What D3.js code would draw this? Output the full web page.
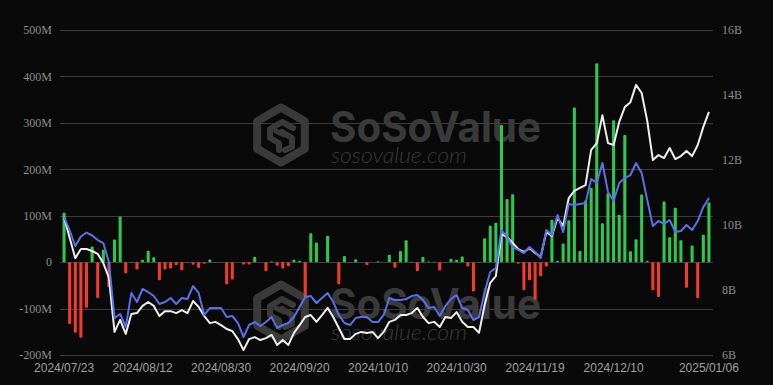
<!DOCTYPE html>
<html>
<head>
    <title>ETH Spot ETF Flows</title>
    <script src="https://cdnjs.cloudflare.com/ajax/libs/d3/7.8.5/d3.min.js"></script>
    <style>
        body { margin: 0; background: #090909; }
        svg { display: block; }
        .axis text { fill: #8c8c8c; font-family: "Liberation Serif", "Times New Roman", serif; font-size: 12px; }
        .xaxis text { fill: #a0a0a0; font-family: "Liberation Sans", Arial, sans-serif; font-size: 12px; }
        .grid line { stroke: #3c3c3c; stroke-width: 1; }
    </style>
</head>
<body>
    <svg id="chart"></svg>

    <script>
        const width = 773, height = 385;

        // trading days
        const dates = [
            "2024/07/23","2024/07/24","2024/07/25","2024/07/26","2024/07/29","2024/07/30","2024/07/31",
            "2024/08/01","2024/08/02","2024/08/05","2024/08/06","2024/08/07","2024/08/08","2024/08/09",
            "2024/08/12","2024/08/13","2024/08/14","2024/08/15","2024/08/16","2024/08/19","2024/08/20",
            "2024/08/21","2024/08/22","2024/08/23","2024/08/26","2024/08/27","2024/08/28","2024/08/29","2024/08/30",
            "2024/09/03","2024/09/04","2024/09/05","2024/09/06","2024/09/09","2024/09/10","2024/09/11",
            "2024/09/12","2024/09/13","2024/09/16","2024/09/17","2024/09/18","2024/09/19","2024/09/20",
            "2024/09/23","2024/09/24","2024/09/25","2024/09/26","2024/09/27","2024/09/30",
            "2024/10/01","2024/10/02","2024/10/03","2024/10/04","2024/10/07","2024/10/08","2024/10/09",
            "2024/10/10","2024/10/11","2024/10/14","2024/10/15","2024/10/16","2024/10/17","2024/10/18",
            "2024/10/21","2024/10/22","2024/10/23","2024/10/24","2024/10/25","2024/10/28","2024/10/29",
            "2024/10/30","2024/10/31",
            "2024/11/01","2024/11/04","2024/11/05","2024/11/06","2024/11/07","2024/11/08","2024/11/11",
            "2024/11/12","2024/11/13","2024/11/14","2024/11/15","2024/11/18","2024/11/19","2024/11/20",
            "2024/11/21","2024/11/22","2024/11/25","2024/11/26","2024/11/27","2024/11/29",
            "2024/12/02","2024/12/03","2024/12/04","2024/12/05","2024/12/06","2024/12/09","2024/12/10",
            "2024/12/11","2024/12/12","2024/12/13","2024/12/16","2024/12/17","2024/12/18","2024/12/19",
            "2024/12/20","2024/12/23","2024/12/24","2024/12/26","2024/12/27","2024/12/30","2024/12/31",
            "2025/01/02","2025/01/03","2025/01/06"
        ];

        // daily net inflow, million USD
        const netInflow = [
            106.6, -133.3, -152.3, -162.7, -98.3, 33.7, -77.2, 26.7, -54.3, 48.8,
            98.4, -23.7, -2.1, -15.7, 4.9, 24.3, 10.8, -39.2, -15.7, -13.5,
            -6.5, -17.2, -1.1, -5.7, -12.4, -3.5, 5.8, -1.2, -0.5, -47.4,
            -37.5, -0.2, -5.2, -5.2, 11.4, 0, -19.3, 1.5, -8.0, -13.5,
            -9.0, 5.2, 3.0, -76.3, 62.4, 42.1, -0.9, 57.1, 0.5, -47.4,
            13.1, -1.5, 6.0, 0, -6.3, 0, 2.1, 0, 16.1, -12.0,
            23.8, 47.4, 1.0, -19.5, 11.3, 1.2, 1.0, -18.1, -1.1, 7.2,
            5.1, 12.0, -9.2, -63.0, 0.3, 51.3, 78.6, 85.0, 295.5, 135.9,
            146.0, -3.2, -59.8, -39.1, -81.2, -30.3, -9.2, 91.2, 2.8, 40.1,
            90.1, 332.9, 24.2, 132.6, 160.0, 428.5, 83.8, 148.3, 305.7, 102.1,
            273.7, 23.6, 49.1, 145.7, 2.5, -60.5, -75.1, 130.8, 53.6, 117.2,
            47.2, -55.4, 35.9, -77.5, 58.9, 128.7
        ];

        // total net assets, billion USD
        const totalAssets = [
            10.25, 9.60, 8.98, 9.26, 9.26, 9.20, 9.11, 8.83, 8.37, 6.71,
            7.08, 6.65, 7.26, 7.29, 7.51, 7.63, 7.51, 7.20, 7.35, 7.35,
            7.29, 7.38, 7.29, 7.66, 7.48, 7.20, 6.98, 7.02, 6.92, 6.80,
            6.74, 6.49, 6.15, 6.49, 6.55, 6.46, 6.52, 6.62, 6.31, 6.46,
            6.31, 6.68, 6.92, 7.17, 7.23, 7.02, 7.23, 7.45, 7.17, 6.83,
            6.49, 6.49, 6.65, 6.71, 6.68, 6.71, 6.52, 6.71, 7.02, 7.08,
            7.23, 7.23, 7.29, 7.45, 7.17, 6.98, 7.02, 6.86, 7.17, 7.14,
            7.32, 7.02, 6.86, 6.86, 6.68, 7.54, 8.22, 8.43, 9.72, 9.63,
            9.45, 9.26, 9.17, 9.29, 9.14, 9.02, 9.78, 9.66, 10.22, 9.97,
            10.83, 11.05, 11.14, 11.23, 12.31, 12.52, 13.38, 12.52, 12.46, 13.17,
            13.63, 13.78, 14.31, 14.06, 13.20, 12.00, 12.15, 12.06, 12.37, 12.03,
            12.12, 12.28, 12.12, 12.46, 13.02, 13.48
        ];

        // ETH price, USD
        const ethPrice = [
            3486, 3341, 3174, 3276, 3319, 3287, 3238, 3206, 3002, 2398,
            2442, 2302, 2668, 2571, 2711, 2678, 2635, 2549, 2571, 2614,
            2549, 2614, 2603, 2743, 2668, 2431, 2506, 2506, 2506, 2409,
            2420, 2345, 2194, 2323, 2355, 2312, 2355, 2409, 2291, 2323,
            2345, 2409, 2517, 2625, 2635, 2560, 2614, 2668, 2571, 2431,
            2345, 2323, 2398, 2409, 2409, 2355, 2355, 2431, 2614, 2592,
            2592, 2603, 2635, 2646, 2592, 2506, 2517, 2420, 2528, 2603,
            2646, 2506, 2485, 2377, 2409, 2678, 2894, 2937, 3346, 3271,
            3163, 3131, 3098, 3163, 3109, 3045, 3346, 3292, 3508, 3325,
            3626, 3615, 3626, 3637, 3895, 3852, 4068, 3755, 3658, 3852,
            3906, 3938, 4068, 3960, 3669, 3389, 3443, 3411, 3454, 3325,
            3335, 3400, 3346, 3443, 3594, 3691
        ];

        const flowTicks = [-200, -100, 0, 100, 200, 300, 400, 500];
        const assetTicks = [6, 8, 10, 12, 14, 16];
        const dateTicks = ["2024/07/23","2024/08/12","2024/08/30","2024/09/20","2024/10/10",
                           "2024/10/30","2024/11/19","2024/12/10","2025/01/06"];

        const plotL = 60, plotR = 713, plotT = 30, plotB = 355;

        const svg = d3.select("#chart")
            .attr("width", width)
            .attr("height", height);

        svg.append("rect").attr("width", width).attr("height", height).attr("fill", "#090909");

        const x = d3.scaleBand().domain(dates).range([plotL, plotR]).padding(0.45);
        const yFlow = d3.scaleLinear().domain([-200, 500]).range([plotB, plotT]);
        const yAssets = d3.scaleLinear().domain([6, 16]).range([plotB, plotT]);
        const yPrice = d3.scaleLinear().domain([2000, 5500]).range([plotB, plotT]);

        // grid
        svg.append("g").attr("class", "grid")
            .selectAll("line")
            .data(flowTicks)
            .join("line")
            .attr("x1", plotL).attr("x2", plotR)
            .attr("y1", d => Math.round(yFlow(d)) + 0.5)
            .attr("y2", d => Math.round(yFlow(d)) + 0.5);

        // watermark
        function watermark(cy) {
            const wm = svg.append("g").attr("fill", "#3a3a3a").attr("stroke", "#3a3a3a");
            const icon = wm.append("g").attr("transform", `translate(281,${cy})`)
                .attr("fill", "none").attr("stroke-linejoin", "round").attr("stroke-linecap", "round");
            const r = 27.5;
            const hex = d3.range(6).map(i => {
                const a = (Math.PI / 3) * i - Math.PI / 2;
                return [r * Math.cos(a), r * Math.sin(a)];
            });
            icon.append("path").attr("d", "M" + hex.join("L") + "Z").attr("stroke-width", 8);
            icon.append("path").attr("d", "M12,-7 L1,-13 L-11,-6 L-11,3 L-2,8 L-2,15").attr("stroke-width", 6);
            icon.append("path").attr("d", "M1,-3 L11,3 L11,12 L4,15").attr("stroke-width", 6);
            icon.append("path").attr("d", "M-5,-4 L3,0").attr("stroke-width", 5);
            const t = wm.append("text").attr("stroke", "none");
            t.append("tspan")
                .attr("x", 330).attr("y", cy + 7)
                .attr("font-family", "Inter, 'Open Sans', sans-serif")
                .attr("font-weight", 700).attr("font-size", 42)
                .attr("textLength", 211).attr("lengthAdjust", "spacingAndGlyphs")
                .text("SoSoValue");
            t.append("tspan")
                .attr("x", 331).attr("y", cy + 28)
                .attr("font-family", "Lato, 'Open Sans', sans-serif")
                .attr("font-style", "italic").attr("font-weight", 300).attr("font-size", 22)
                .attr("textLength", 136).attr("lengthAdjust", "spacingAndGlyphs")
                .text("sosovalue.com");
        }
        watermark(135);
        watermark(312);

        // bars
        svg.append("g")
            .selectAll("rect")
            .data(netInflow)
            .join("rect")
            .attr("x", (d, i) => x(dates[i]))
            .attr("width", x.bandwidth())
            .attr("y", d => yFlow(Math.max(0, d)))
            .attr("height", d => Math.abs(yFlow(d) - yFlow(0)))
            .attr("rx", 1)
            .attr("fill", d => d >= 0 ? "#2fc653" : "#f23b2f");

        const cx = i => x(dates[i]) + x.bandwidth() / 2;

        svg.append("path")
            .datum(totalAssets)
            .attr("fill", "none")
            .attr("stroke", "#eeeeee")
            .attr("stroke-width", 2)
            .attr("stroke-linejoin", "round")
            .attr("d", d3.line().x((d, i) => cx(i)).y(d => yAssets(d)));

        svg.append("path")
            .datum(ethPrice)
            .attr("fill", "none")
            .attr("stroke", "#5b70e6")
            .attr("stroke-width", 2)
            .attr("stroke-linejoin", "round")
            .attr("d", d3.line().x((d, i) => cx(i)).y(d => yPrice(d)));

        // axes
        const yAxisL = svg.append("g").attr("class", "axis")
            .attr("transform", `translate(${plotL},0)`)
            .call(d3.axisLeft(yFlow).tickValues(flowTicks)
                .tickFormat(d => d === 0 ? "0" : d + "M").tickSize(0).tickPadding(8));
        yAxisL.select(".domain").remove();

        const yAxisR = svg.append("g").attr("class", "axis")
            .attr("transform", `translate(${plotR},0)`)
            .call(d3.axisRight(yAssets).tickValues(assetTicks)
                .tickFormat(d => d + "B").tickSize(0).tickPadding(9));
        yAxisR.select(".domain").remove();

        const xAxis = svg.append("g").attr("class", "xaxis")
            .attr("transform", `translate(0,${plotB})`)
            .call(d3.axisBottom(x).tickValues(dateTicks).tickSize(0).tickPadding(8.5));
        xAxis.select(".domain").remove();

        svg.selectAll(".axis, .xaxis").attr("font-family", null).attr("font-size", null);
    </script>
</body>
</html>
